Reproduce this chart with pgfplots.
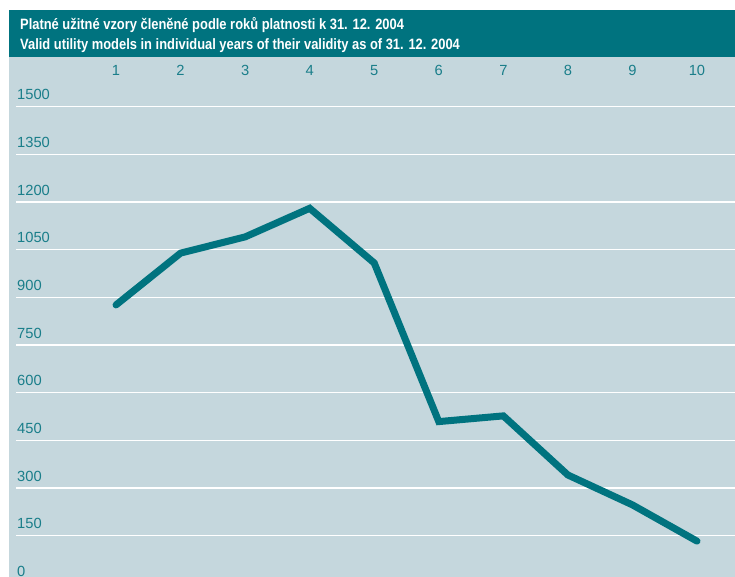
\documentclass[border=0pt]{standalone}
\usepackage{pgfplots}
\pgfplotsset{compat=1.18}
\usepackage{fontspec}
\setmainfont{Liberation Sans}
\newfontfamily\titlefont[FakeStretch=0.86]{Liberation Sans}
\definecolor{barcol}{HTML}{00737F}
\definecolor{linecol}{HTML}{00737F}
\definecolor{bgcol}{HTML}{C5D7DD}
\definecolor{tickcol}{HTML}{1A7E8A}
\begin{document}
\begin{tikzpicture}
\begin{axis}[
    name=ax,
    scale only axis,
    width=726pt, height=526.4pt,
    xmin=-0.658, xmax=10.589,
    ymin=0, ymax=1656,
    axis background/.style={fill=bgcol},
    axis line style={draw=none},
    xtick={1,2,3,4,5,6,7,8,9,10},
    ytick={0,150,300,450,600,750,900,1050,1200,1350,1500},
    major tick length=0pt,
    xticklabel pos=upper,
    xticklabel style={anchor=base, inner sep=0pt, yshift=-19pt},
    yticklabel style={anchor=south west, inner sep=0pt, xshift=8pt, yshift=6.5pt},
    tick label style={font=\fontsize{14.7}{16}\selectfont, text=tickcol},
    /pgf/number format/assume math mode=true,
    /pgf/number format/1000 sep={},
    ymajorgrids,
    grid style={white, line width=1.5pt},
]
\addplot[color=linecol, line width=7pt, line cap=round, line join=miter]
coordinates {
    (1, 876)
    (2, 1039)
    (3, 1090)
    (4, 1180)
    (5, 1008)
    (6, 509)
    (7, 527)
    (8, 341)
    (9, 247)
    (10, 133)
};
\end{axis}
% hide the first few points of the grid lines at the left edge
\fill[bgcol] (ax.south west) rectangle ([xshift=7pt]ax.north west);
% title bar
\fill[barcol] (ax.north west) rectangle ([yshift=47pt]ax.north east);
\node[anchor=base west, inner sep=0pt, text=white, font=\titlefont\bfseries\fontsize{15}{17}\selectfont]
    at ([xshift=11pt, yshift=27pt]ax.north west) {Platné užitné vzory členěné podle roků platnosti k 31. 12. 2004};
\node[anchor=base west, inner sep=0pt, text=white, font=\titlefont\bfseries\fontsize{15}{17}\selectfont]
    at ([xshift=11pt, yshift=7pt]ax.north west) {Valid utility models in individual years of their validity as of 31. 12. 2004};
\pgfresetboundingbox
\path[use as bounding box] ([xshift=-9pt, yshift=6.4pt]ax.south west) rectangle ([yshift=57pt]ax.north east);
\end{tikzpicture}
\end{document}
